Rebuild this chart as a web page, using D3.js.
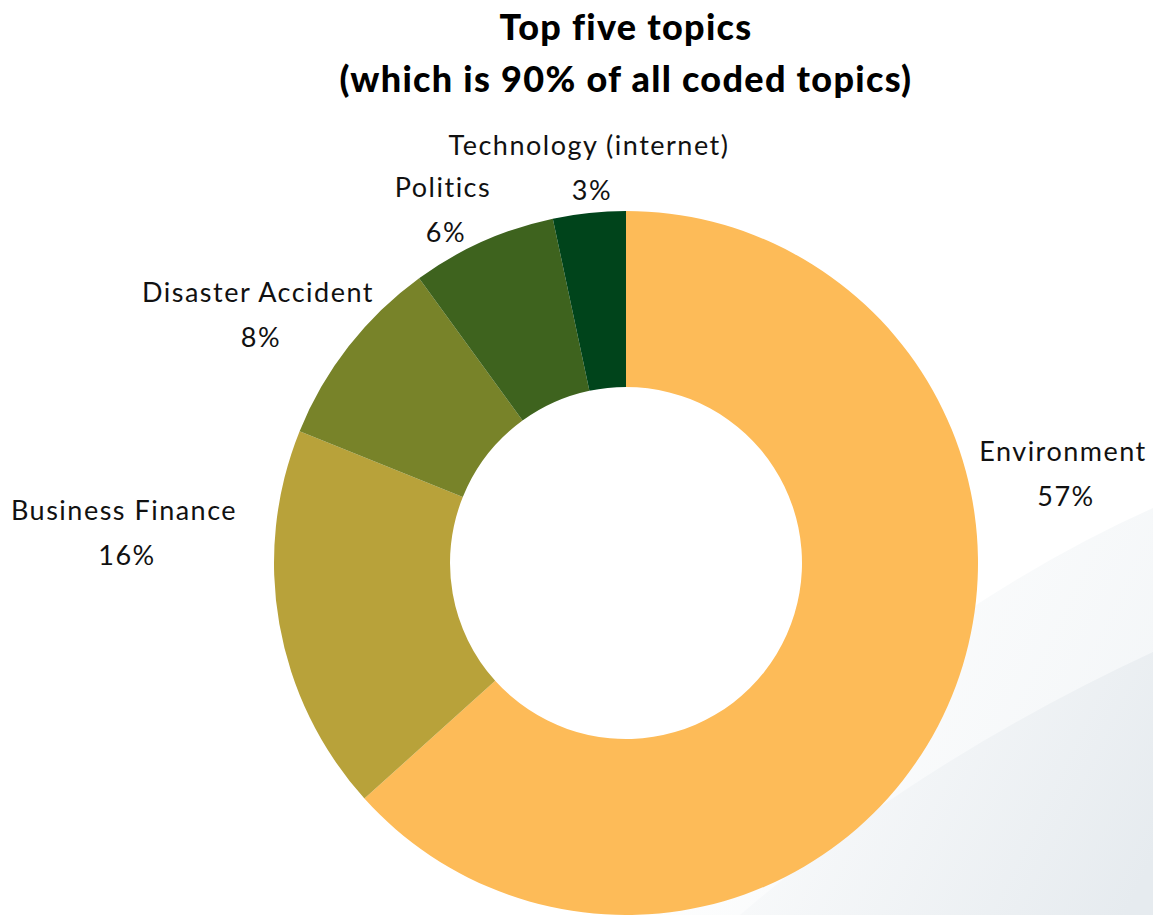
<!DOCTYPE html>
<html>
<head>
<meta charset="utf-8">
<script src="https://cdn.jsdelivr.net/npm/d3@7"></script>
<style>
  html, body { margin: 0; padding: 0; background: #fff; }
  svg { display: block; }
</style>
</head>
<body>
<svg id="chart" width="1153" height="915"></svg>
<script>
// Topic shares (percent of all coded topics)
const topics = ["Environment", "Business Finance", "Disaster Accident", "Politics", "Technology (internet)"];
const shares = [57, 16, 8, 6, 3];
const colors = ["#FDBB58", "#B8A23A", "#788329", "#3E631E", "#00441B"];

const titleLines = ["Top five topics", "(which is 90% of all coded topics)"];

// Label anchors relative to the donut centre (layout only)
const labelOffsets = [[437, -102], [-502, -43], [-368, -261], [-183, -366], [-37, -408]];

const W = 1153, H = 915;
const cx = 626, cy = 563, outerR = 352, innerR = 176;
const font = "Lato, 'Open Sans', sans-serif";

const svg = d3.select("#chart");

// soft background swooshes in the lower right corner
const defs = svg.append("defs");
function grad(id, stopColor) {
  const lg = defs.append("linearGradient").attr("id", id)
    .attr("gradientUnits", "userSpaceOnUse")
    .attr("x1", 700).attr("y1", 640).attr("x2", W).attr("y2", 860);
  lg.append("stop").attr("offset", "0").attr("stop-color", "#ffffff");
  lg.append("stop").attr("offset", "1").attr("stop-color", stopColor);
}
grad("bgGrad1", "#f2f5f7");
grad("bgGrad2", "#e6ebef");
svg.append("path")
  .attr("d", `M ${W} 508 Q 880 630 620 ${H} L ${W} ${H} Z`)
  .attr("fill", "url(#bgGrad1)");
svg.append("path")
  .attr("d", `M ${W} 652 Q 920 760 740 ${H} L ${W} ${H} Z`)
  .attr("fill", "url(#bgGrad2)");

// title
svg.append("text")
  .attr("x", cx).attr("text-anchor", "middle")
  .attr("font-family", font).attr("font-weight", 900).attr("font-size", 36)
  .attr("letter-spacing", 1.3).attr("fill", "#000")
  .selectAll("tspan").data(titleLines).join("tspan")
  .attr("x", cx).attr("y", (d, i) => 40 + i * 52)
  .text(d => d);

const data = topics.map((t, i) => ({ topic: t, value: shares[i], color: colors[i], off: labelOffsets[i] }));

const pie = d3.pie().value(d => d.value).sort(null);
const arc = d3.arc().innerRadius(innerR).outerRadius(outerR);

const g = svg.append("g").attr("transform", `translate(${cx},${cy})`);
g.selectAll("path.slice").data(pie(data)).join("path")
  .attr("class", "slice")
  .attr("d", arc)
  .attr("fill", d => d.data.color);

// category + percentage labels
const lab = g.selectAll("text.lab").data(data).join("text")
  .attr("class", "lab")
  .attr("text-anchor", "middle")
  .attr("font-family", font).attr("font-size", 27)
  .attr("letter-spacing", 1.5).attr("fill", "#111");
lab.append("tspan").attr("x", d => d.off[0]).attr("y", d => d.off[1]).text(d => d.topic);
lab.append("tspan").attr("x", d => d.off[0] + 3).attr("y", d => d.off[1] + 45).text(d => d.value + "%");
</script>
</body>
</html>
